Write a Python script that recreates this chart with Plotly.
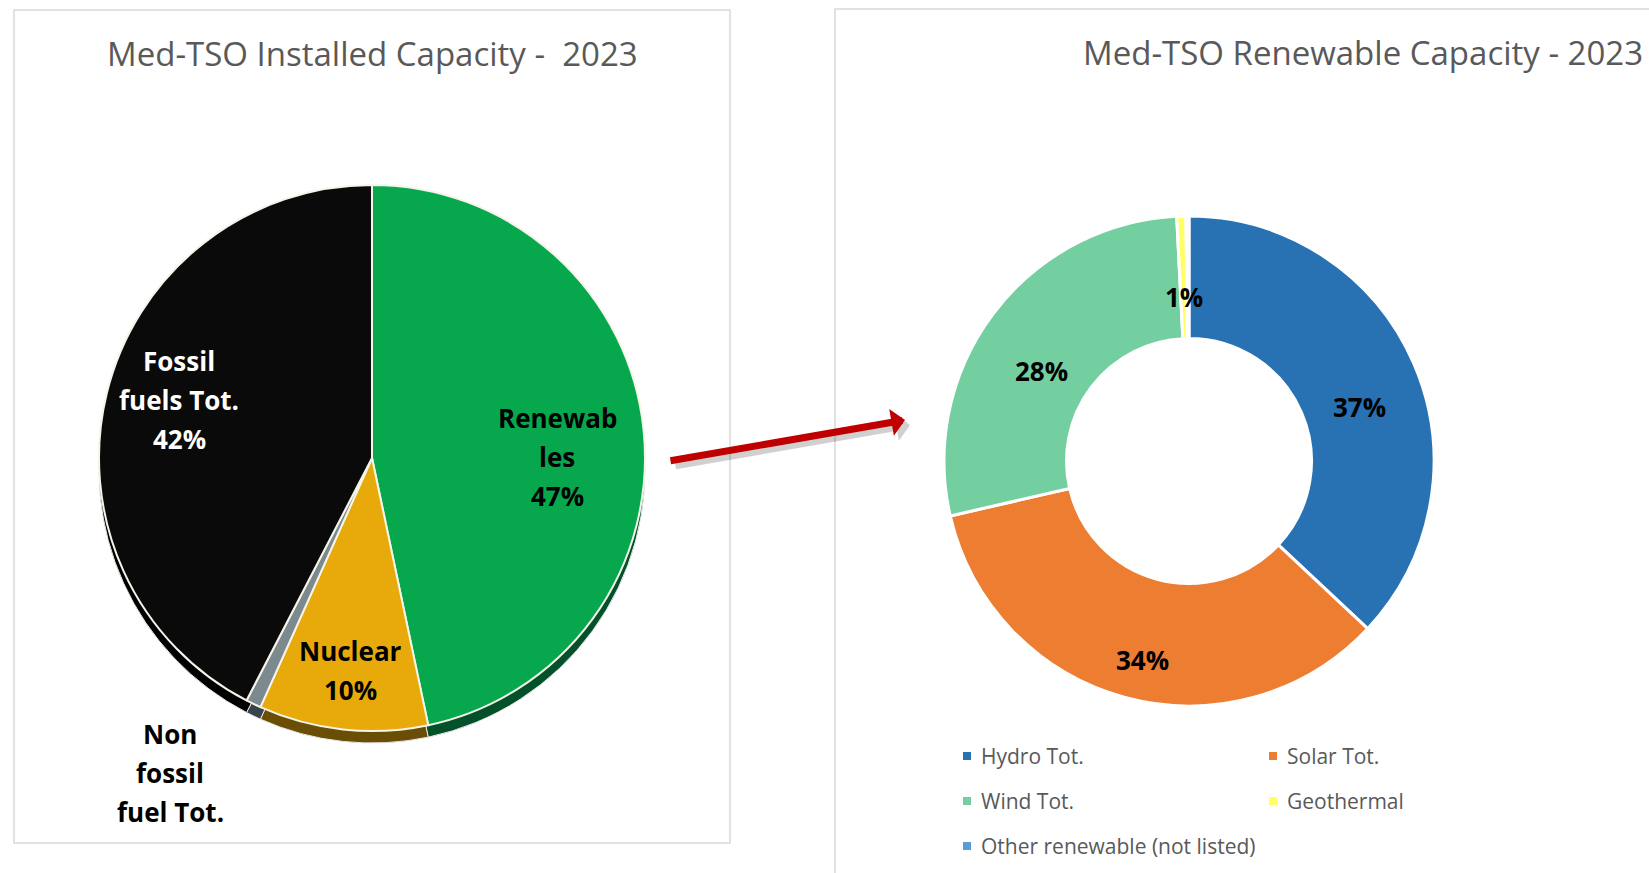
import plotly.graph_objects as go

W, H = 1649, 873

# ---------------- data ----------------
mix_labels = ["Renewables", "Nuclear", "Non fossil fuel Tot.", "Fossil fuels Tot."]
mix_values = [46.7, 10.0, 0.9, 42.4]
mix_colors = ["#07A84D", "#E8AA0A", "#7C8A90", "#0B0A0A"]
mix_rim_colors = ["#03512A", "#6B4E06", "#39434A", "#000000"]
mix_label_lines = [["Renewab", "les"], ["Nuclear"], ["Non", "fossil", "fuel Tot."], ["Fossil", "fuels Tot."]]
mix_label_colors = ["#000000", "#000000", "#000000", "#FFFFFF"]
mix_show_pct = [True, True, False, True]  # last line of "Non fossil" label is cut off by the frame

ren_labels = ["Hydro Tot.", "Solar Tot.", "Wind Tot.", "Geothermal", "Other renewable (not listed)"]
ren_values = [37.0, 34.4, 27.8, 0.6, 0.2]
ren_colors = ["#2872B4", "#ED7D31", "#74CFA0", "#FFFF66", "#5B9BD5"]

title_left = "Med-TSO Installed Capacity -  2023"
title_right = "Med-TSO Renewable Capacity - 2023"

# ---------------- layout helpers (pixels -> paper) ----------------
def px(x):
    return x / W

def py(y):
    return 1 - y / H

def domain(cx, cy, r):
    return dict(x=[px(cx - r), px(cx + r)], y=[py(cy + r), py(cy - r)])

LCX, LCY, LR = 372, 458, 273
RIM = 12
RCX, RCY, RR = 1189, 461, 245

fig = go.Figure()

# 3D rim of the left pie (drawn first, slightly lower)
fig.add_trace(go.Pie(
    labels=mix_labels, values=mix_values, sort=False, direction="clockwise", rotation=0,
    marker=dict(colors=mix_rim_colors, line=dict(color="#E8E8E8", width=1)),
    textinfo="none", hoverinfo="skip", showlegend=False,
    domain=domain(LCX, LCY + RIM, LR),
))
# left pie face
fig.add_trace(go.Pie(
    labels=mix_labels, values=mix_values, sort=False, direction="clockwise", rotation=0,
    marker=dict(colors=mix_colors, line=dict(color="#F4F4E8", width=2)),
    textinfo="none", hoverinfo="label+percent", showlegend=False,
    domain=domain(LCX, LCY, LR),
))
# right donut
fig.add_trace(go.Pie(
    labels=ren_labels, values=ren_values, sort=False, direction="clockwise", rotation=0,
    hole=0.5,
    marker=dict(colors=ren_colors, line=dict(color="#FFFFFF", width=3)),
    textinfo="none", hoverinfo="label+percent", showlegend=False,
    domain=domain(RCX, RCY, RR),
))

annotations = []
shapes = []

# panel frames
shapes.append(dict(type="rect", xref="paper", yref="paper",
                   x0=px(14), x1=px(730), y0=py(843), y1=py(10),
                   line=dict(color="#D9D9D9", width=1.5), fillcolor="rgba(0,0,0,0)", layer="below"))
shapes.append(dict(type="rect", xref="paper", yref="paper",
                   x0=px(835), x1=px(1700), y0=py(920), y1=py(9),
                   line=dict(color="#D9D9D9", width=1.5), fillcolor="rgba(0,0,0,0)", layer="below"))

# titles
TF = dict(family="Open Sans, Lato, sans-serif", size=33, color="#595959")
annotations.append(dict(text=title_left, x=px(372), y=py(53), xref="paper", yref="paper",
                        showarrow=False, font=TF, xanchor="center", yanchor="middle"))
annotations.append(dict(text=title_right, x=px(1363), y=py(52), xref="paper", yref="paper",
                        showarrow=False, font=TF, xanchor="center", yanchor="middle"))

# left pie labels (one annotation per line)
mix_total = sum(mix_values)
mix_first_line = [(557, 418), (350, 651), (170, 734), (179, 361)]
LINE = 39
for lines, val, col, show, (lx, ly) in zip(mix_label_lines, mix_values, mix_label_colors,
                                          mix_show_pct, mix_first_line):
    all_lines = list(lines) + ([f"{round(100 * val / mix_total)}%"] if show else [])
    for i, t in enumerate(all_lines):
        annotations.append(dict(text=t, x=px(lx), y=py(ly + i * LINE), xref="paper", yref="paper",
                                showarrow=False, xanchor="center", yanchor="middle",
                                font=dict(family="Open Sans, sans-serif", size=26, color=col,
                                          weight="bold")))

# donut labels
ren_total = sum(ren_values)
ren_label_pos = [(1359, 407), (1142, 660), (1041, 371), (1184, 297), None]
for val, pos in zip(ren_values, ren_label_pos):
    if pos is None:
        continue
    annotations.append(dict(text=f"{round(100 * val / ren_total)}%", x=px(pos[0]), y=py(pos[1]),
                            xref="paper", yref="paper", showarrow=False,
                            xanchor="center", yanchor="middle",
                            font=dict(family="Open Sans, sans-serif", size=26, color="#000000",
                                      weight="bold")))

# legend of the donut (two columns)
leg_pos = [(963, 756), (1269, 756), (963, 801), (1269, 801), (963, 846)]
for lab, col, (lx, ly) in zip(ren_labels, ren_colors, leg_pos):
    shapes.append(dict(type="rect", xref="paper", yref="paper",
                       x0=px(lx), x1=px(lx + 8), y0=py(ly + 4), y1=py(ly - 4),
                       line=dict(width=0), fillcolor=col))
    annotations.append(dict(text=lab, x=px(lx + 16), y=py(ly), xref="paper", yref="paper",
                            showarrow=False, xanchor="left", yanchor="middle",
                            font=dict(family="Open Sans, sans-serif", size=21, color="#595959")))

# arrow (shadow then red arrow)
annotations.append(dict(text="", x=px(910), y=py(425), xref="paper", yref="paper",
                        showarrow=True, ax=-236, ay=41, arrowhead=1, arrowsize=0.65,
                        arrowwidth=7, arrowcolor="rgba(0,0,0,0.18)"))
annotations.append(dict(text="", x=px(905), y=py(420), xref="paper", yref="paper",
                        showarrow=True, ax=-236, ay=41, arrowhead=1, arrowsize=0.65,
                        arrowwidth=7, arrowcolor="#C00000"))

fig.update_layout(
    width=W, height=H, autosize=False,
    margin=dict(l=0, r=0, t=0, b=0),
    paper_bgcolor="#FFFFFF", plot_bgcolor="#FFFFFF",
    shapes=shapes, annotations=annotations,
    showlegend=False,
)

fig.write_html("out.html", config={"displayModeBar": False},
               post_script="document.body.style.margin='0';document.body.style.overflow='hidden';")
